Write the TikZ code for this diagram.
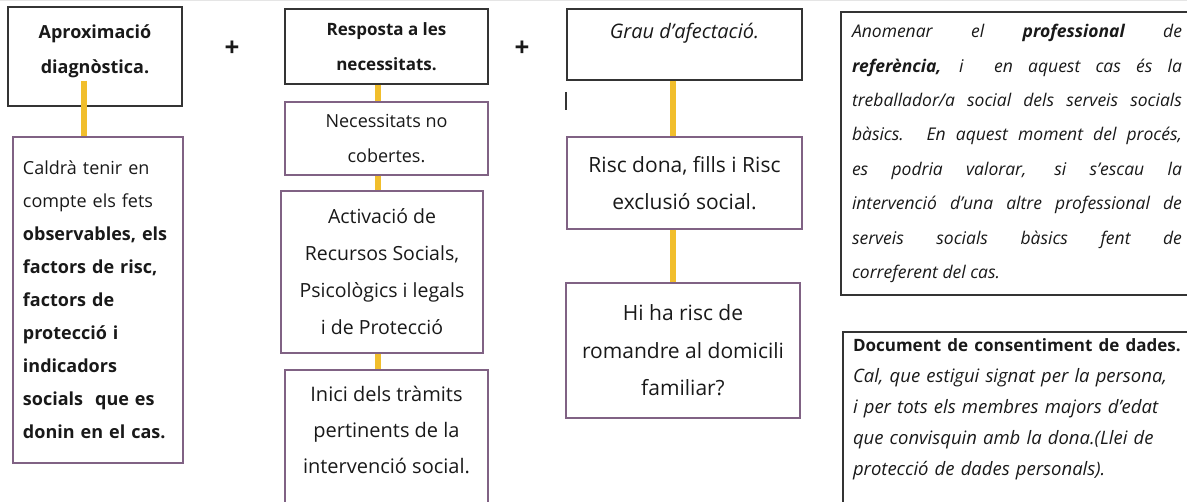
\documentclass[tikz,border=0pt]{standalone}
\usepackage{fontspec}
\setmainfont{Open Sans}
\usepackage{xcolor}

\definecolor{lila}{RGB}{128,98,132}
\definecolor{groc}{RGB}{241,190,44}
\definecolor{vora}{RGB}{52,52,52}

\begin{document}
\begin{tikzpicture}[x=1pt,y=-1pt,
    every node/.style={text=black!90,inner sep=0pt,align=center,
      font=\fontsize{19}{35}\selectfont},
    blackbox/.style={draw=vora,line width=1.4pt},
    lilabox/.style={draw=lila,line width=1.4pt},
    link/.style={draw=groc,line width=5.5pt},
    plus/.style={font=\fontsize{26}{26}\selectfont\bfseries}]
      \useasboundingbox (0,0) rectangle (1187,502);
      \clip (0,0) rectangle (1187,502);
      \draw[gray!20,line width=1.5pt] (0,0.5) -- (1187,0.5);
      \begin{scope}
        \node[blackbox,minimum width=174pt,minimum height=99pt,text depth=14pt,
              font=\fontsize{18}{35}\selectfont\bfseries]
             (aprox) at (95,56.5) {Aproximació\\diagnòstica.};
        \node[lilabox,minimum width=170pt,minimum height=326pt,text width=150pt,
              align=left,font=\fontsize{18}{33}\selectfont]
             (calc) at (98,300) {Caldrà tenir en\\compte els fets\\
              \textbf{observables, els}\\\textbf{factors de risc,}\\
              \textbf{factors de}\\\textbf{protecció i}\\\textbf{indicadors}\\
              \textbf{socials\ \ que es}\\\textbf{donin en el cas.}};
        \draw[link]([xshift=-11pt,yshift=26pt]aprox.south)--([xshift=-14pt]calc.north);
        \node[plus] (plus-a) at (232,49) {+};
      \end{scope}
      %%
      \begin{scope}
        \node[blackbox,minimum width=203pt,minimum height=75pt,
              font=\fontsize{17}{35}\selectfont\bfseries]
             (resp) at (386.5,46.5) {Resposta a les\\necessitats.};
        \node[lilabox,minimum width=203pt,minimum height=73pt,
              font=\fontsize{18}{35}\selectfont]
             (neces) at (386.5,138.5) {Necessitats no\\cobertes.};
        \node[lilabox,minimum width=202pt,minimum height=162pt,
              font=\fontsize{19.5}{37}\selectfont]
             (activ) at (382,272) {Activació de\\Recursos Socials,\\
              Psicològics i legals\\i de Protecció};
        \node[lilabox,minimum width=203pt,minimum height=150pt,text depth=31pt,
              font=\fontsize{20}{36}\selectfont]
             (inici) at (386.5,445) {Inici dels tràmits\\pertinents de la\\
              intervenció social.};
        \draw[link]([xshift=-8.5pt]resp.south)--([xshift=-8.5pt]neces.north);
        \draw[link]([xshift=-8.5pt]neces.south)--([xshift=-4pt]activ.north);
        \draw[link]([xshift=-4pt]activ.south)--([xshift=-8.5pt]inici.north);
        \node[plus] (plus-b) at (522,49) {+};
      \end{scope}
      %%
      \begin{scope}
        \node[blackbox,minimum width=235pt,minimum height=71pt,text depth=28pt,
              font=\fontsize{20}{35}\selectfont\itshape]
             (grau) at (684.5,44.5) {Grau d'afectació.};
        \coordinate (mark-a) at (566,92);
        \coordinate (mark-b) at (566,110);
        \draw[vora,line width=1.2pt](mark-a)--(mark-b);
        \node[lilabox,minimum width=235pt,minimum height=92pt,
              font=\fontsize{21}{37}\selectfont]
             (risc) at (684.5,183) {Risc dona, fills i Risc\\exclusió social.};
        \node[lilabox,minimum width=234pt,minimum height=135pt,
              font=\fontsize{21}{37.5}\selectfont]
             (romand) at (683,350.5) {Hi ha risc de\\romandre al domicili\\familiar?};
        \draw[link]([xshift=-11.5pt]grau.south)--([xshift=-11.5pt]risc.north);
        \draw[link]([xshift=-11.5pt]risc.south)--([xshift=-10pt]romand.north);
      \end{scope}
      %%
      \begin{scope}
        \node[blackbox,minimum width=352pt,minimum height=283pt,text width=330pt,
              align=justify,font=\fontsize{17.5}{34.4}\selectfont\itshape]
             (anomen) at (1017,153.5) {Anomenar el \textbf{professional} de\linebreak
              \textbf{referència,} i\ \ en aquest cas és la\linebreak
              treballador/a social dels serveis socials\linebreak
              bàsics. En aquest moment del procés,\linebreak
              es podria valorar, si s'escau la\linebreak
              intervenció d'una altre\ professional de\linebreak
              serveis socials bàsics fent de\linebreak
              correferent del cas.};
        \node[blackbox,minimum width=350pt,minimum height=188pt,text width=330pt,
              align=left,text depth=161pt,font=\fontsize{18.5}{31}\selectfont]
             (docum) at (1018,426) {{\fontsize{17}{31}\selectfont\bfseries
              Document de consentiment de dades.}\\
              \itshape Cal, que estigui signat per la persona,\\
              \itshape i per tots els membres majors d'edat\\
              \itshape que convisquin amb la dona.(Llei de\\
              \itshape protecció de dades personals).};
      \end{scope}
    \end{tikzpicture}
\end{document}
